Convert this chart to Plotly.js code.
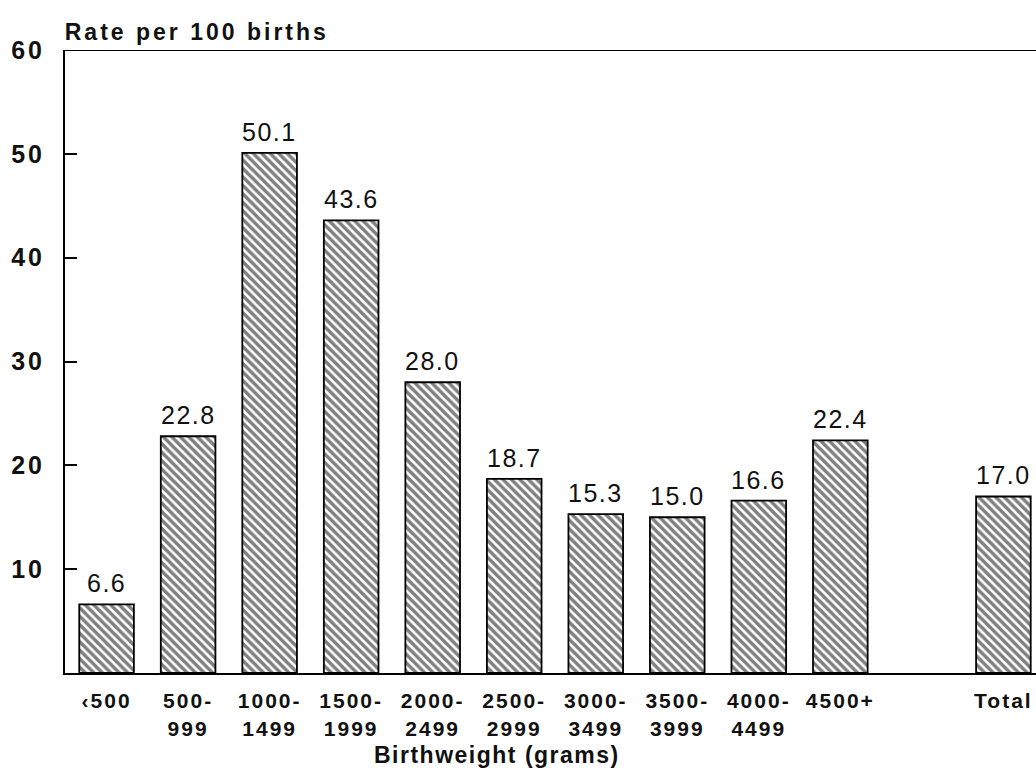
<!DOCTYPE html>
<html><head><meta charset="utf-8">
<script src="https://cdn.plot.ly/plotly-3.0.1.min.js"></script>
<style>
html,body{margin:0;padding:0;background:#fff}
#chart{width:1036px;height:773px}
.xtick text {letter-spacing:2px}
.ytick text {letter-spacing:3px}
.annotation-text {letter-spacing:1.5px}
</style></head><body><div id="chart"></div>
<script>
const categories = ["<500","500-999","1000-1499","1500-1999","2000-2499","2500-2999","3000-3499","3500-3999","4000-4499","4500+","Total"];
const tickLabels = ["‹500","500-<br>999","1000-<br>1499","1500-<br>1999","2000-<br>2499","2500-<br>2999","3000-<br>3499","3500-<br>3999","4000-<br>4499","4500+","Total"];
const rates = [6.6, 22.8, 50.1, 43.6, 28.0, 18.7, 15.3, 15.0, 16.6, 22.4, 17.0];
const yTicks = [10, 20, 30, 40, 50, 60];
const yTitle = "Rate per 100 births";
const xTitle = "Birthweight (grams)";

const spacer = " ";
const order = categories.slice(0, 10).concat([spacer, categories[10]]);
const orderLabels = tickLabels.slice(0, 10).concat(["", tickLabels[10]]);

const FONT = "'Liberation Sans', Arial, Helvetica, sans-serif";

const trace = {
  type: "bar",
  x: categories,
  y: rates,
  width: 0.67,
  marker: {
    color: "#ffffff",
    line: {color: "#000", width: 1.8},
    pattern: {shape: "\\", size: 6, solidity: 0.58, fgcolor: "#000", bgcolor: "#fff", fillmode: "overlay"}
  },
  hoverinfo: "skip"
};

const annotations = categories.map((c, i) => ({
  x: c, y: rates[i], xref: "x", yref: "y",
  text: rates[i].toFixed(1), showarrow: false,
  yanchor: "bottom", yshift: 5,
  font: {family: FONT, size: 25, color: "#111"}
}));
annotations.push({
  xref: "paper", yref: "paper", x: 0, y: 1, xanchor: "left", yanchor: "bottom", yshift: 3, xshift: 12,
  text: yTitle, showarrow: false,
  font: {family: FONT, size: 23, color: "#111", weight: "bold"}
});
annotations.push({
  xref: "paper", yref: "paper", x: 0.445, y: 0, xanchor: "center", yanchor: "top", yshift: -67,
  text: xTitle, showarrow: false,
  font: {family: FONT, size: 23, color: "#111", weight: "bold"}
});

const layout = {
  width: 1036, height: 773,
  margin: {l: 65, r: 0, t: 50, b: 100},
  paper_bgcolor: "#fff", plot_bgcolor: "#fff",
  showlegend: false,
  xaxis: {
    type: "category",
    categoryorder: "array", categoryarray: order,
    tickvals: order, ticktext: orderLabels,
    range: [-0.51, 11.4],
    showgrid: false, zeroline: false,
    showline: true, linecolor: "#000", linewidth: 2,
    ticks: "", ticklabelstandoff: 8,
    tickfont: {family: FONT, size: 21, color: "#111", weight: "bold"},
    fixedrange: true
  },
  yaxis: {
    range: [0, 60],
    tickvals: yTicks,
    showgrid: false, zeroline: false,
    showline: true, linecolor: "#000", linewidth: 2,
    ticks: "inside", ticklen: 12, tickwidth: 2, tickcolor: "#000",
    ticklabelstandoff: 13,
    tickfont: {family: FONT, size: 25, color: "#111", weight: "bold"},
    fixedrange: true
  },
  shapes: [{
    type: "line", xref: "paper", yref: "y", x0: 0, x1: 1, y0: 60, y1: 60,
    line: {color: "#000", width: 2}
  }],
  annotations: annotations
};

Plotly.newPlot("chart", [trace], layout, {displayModeBar: false, staticPlot: true}).then(() => {
  const anns = document.querySelectorAll(".annotation");
  const yt = anns[categories.length];
  if (yt) {
    const t = yt.querySelector(".annotation-text");
    if (t) t.style.letterSpacing = "3px";
  }
});
</script></body></html>
